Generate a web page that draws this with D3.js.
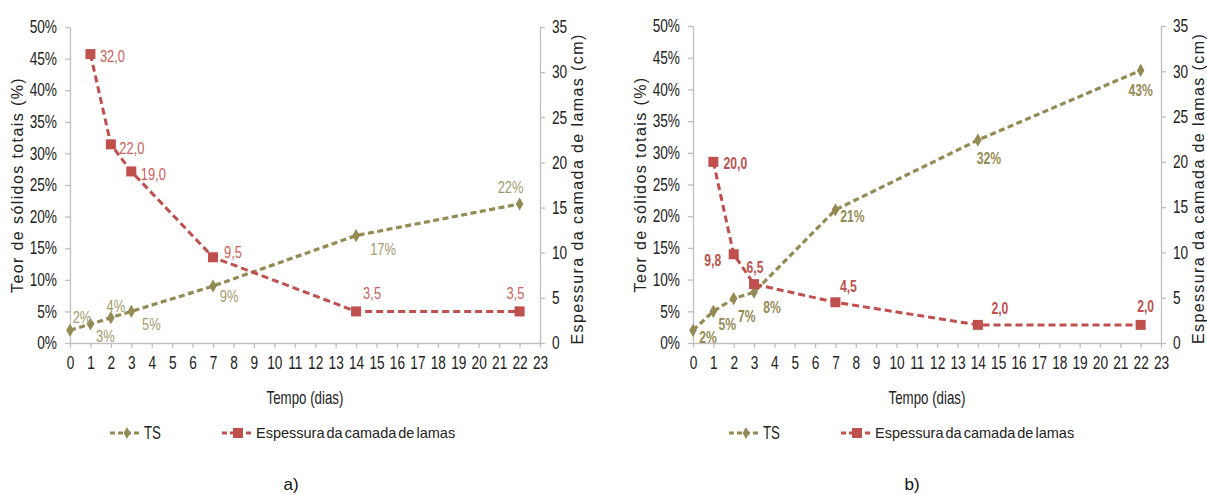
<!DOCTYPE html>
<html>
<head>
<meta charset="utf-8">
<script src="https://cdn.jsdelivr.net/npm/d3@7/dist/d3.min.js"></script>
<style>
  html, body { margin: 0; padding: 0; background: #fff; }
  svg { display: block; }
</style>
</head>
<body>
<svg id="chart" width="1207" height="495"></svg>
<script>
// Sampling days (x axis, days) and the two measured series per trial
const days = [0, 1, 2, 3, 7, 14, 22];
const espDays = [1, 2, 3, 7, 14, 22];

// Trial a)
const tsA = [0.02, 0.03, 0.04, 0.05, 0.09, 0.17, 0.22];
const espA = [32.0, 22.0, 19.0, 9.5, 3.5, 3.5];

// Trial b)
const tsB = [0.02, 0.05, 0.07, 0.08, 0.21, 0.32, 0.43];
const espB = [20.0, 9.8, 6.5, 4.5, 2.0, 2.0];

// Tick values
const dayTicks = d3.range(0, 24);
const pctTicks = [0, 0.05, 0.10, 0.15, 0.20, 0.25, 0.30, 0.35, 0.40, 0.45, 0.50];
const cmTicks = [0, 5, 10, 15, 20, 25, 30, 35];

// Text
const yLeftTitle = "Teor de sólidos totais (%)";
const yRightTitle = "Espessura da camada de lamas (cm)";
const xTitle = "Tempo (dias)";
const legendTS = "TS";
const legendEsp = "Espessura da camada de lamas";

const OLIVE = "#948A54";
const RED = "#C0504D";
const AXIS = "#BFBFBF";
const SANS = '"Liberation Sans", Arial, sans-serif';
const NARROW_K = 0.76; // horizontal squeeze giving a narrow face

// Data-label offsets (px) relative to each marker
const tsLabelOffA = [[12, -14], [15, 12], [5, -12], [20, 12], [16, 10], [27, 13], [-9, -17]];
const espLabelOffA = [[22, 2], [21, 3], [22, 2], [20, -5], [16, -19], [-4, -19]];
const tsLabelOffB = [[15, 7], [14, 13], [13, 18], [18, 15], [17, 7], [11, 18], [0, 20]];
const espLabelOffB = [[22, 2], [-21, 6], [1, -17], [13, -16], [22, -17], [5, -19]];

const svg = d3.select("#chart");

// Squeeze text horizontally around its own anchor point
function condense(sel) {
  sel.each(function () {
    const t = d3.select(this);
    const x = +t.attr("x") || 0, y = +t.attr("y") || 0;
    t.attr("x", 0).attr("y", 0).attr("transform", `translate(${x},${y}) scale(${NARROW_K},1)`);
  });
}

function panel(cfg) {
  const x = d3.scaleLinear().domain([0, 23]).range([cfg.x0, cfg.x1]);
  const yL = d3.scaleLinear().domain([0, 0.5]).range([cfg.yBottom, cfg.yTop]);
  const yR = d3.scaleLinear().domain([0, 35]).range([cfg.yBottom, cfg.yTop]);
  const g = svg.append("g");

  const styleAxis = sel => {
    sel.select(".domain").attr("stroke", AXIS).attr("stroke-width", 1.3);
    sel.selectAll(".tick line").attr("stroke", AXIS).attr("stroke-width", 1.3);
  };

  g.append("g").attr("transform", `translate(0,${cfg.yBottom})`)
    .call(d3.axisBottom(x).tickValues(dayTicks).tickSize(5).tickSizeOuter(0).tickPadding(8).tickFormat(d3.format("d")))
    .call(styleAxis);
  g.append("g").attr("transform", `translate(${cfg.x0},0)`)
    .call(d3.axisLeft(yL).tickValues(pctTicks).tickSize(5).tickSizeOuter(0).tickPadding(8).tickFormat(d3.format(".0%")))
    .call(styleAxis);
  g.append("g").attr("transform", `translate(${cfg.x1},0)`)
    .call(d3.axisRight(yR).tickValues(cmTicks).tickSize(5).tickSizeOuter(0).tickPadding(7).tickFormat(d3.format("d")))
    .call(styleAxis);
  g.selectAll(".tick text").attr("font-family", SANS).attr("font-size", 18).attr("fill", "#222").call(condense);

  // Axis titles
  const yMid = (cfg.yTop + cfg.yBottom) / 2;
  g.append("text").attr("transform", `translate(${cfg.x0 - 47},${yMid}) rotate(-90)`)
    .attr("text-anchor", "middle").attr("font-family", SANS).attr("font-size", 16)
    .attr("letter-spacing", 1.4).attr("fill", "#222").text(yLeftTitle);
  g.append("text").attr("transform", `translate(${cfg.x1 + 43},${yMid + 4}) rotate(-90)`)
    .attr("text-anchor", "middle").attr("font-family", SANS).attr("font-size", 16)
    .attr("letter-spacing", 1.4).attr("fill", "#222").text(yRightTitle);
  g.append("text").attr("x", (cfg.x0 + cfg.x1) / 2).attr("y", cfg.yBottom + 61)
    .attr("text-anchor", "middle").attr("font-family", SANS).attr("font-size", 17.5)
    .attr("fill", "#222").text(xTitle).call(condense);

  // TS series
  const tsPts = days.map((d, i) => [d, cfg.ts[i]]);
  g.append("path").datum(tsPts)
    .attr("d", d3.line().x(d => x(d[0])).y(d => yL(d[1])))
    .attr("fill", "none").attr("stroke", OLIVE).attr("stroke-width", 3.2).attr("stroke-dasharray", "6,3.5");
  g.selectAll(".ts-m").data(tsPts).join("path")
    .attr("transform", d => `translate(${x(d[0])},${yL(d[1])})`)
    .attr("d", d3.symbol(d3.symbolDiamond, 50)).attr("fill", OLIVE);

  // Sludge-layer thickness series
  const espPts = espDays.map((d, i) => [d, cfg.esp[i]]);
  g.append("path").datum(espPts)
    .attr("d", d3.line().x(d => x(d[0])).y(d => yR(d[1])))
    .attr("fill", "none").attr("stroke", RED).attr("stroke-width", 3).attr("stroke-dasharray", "7,4");
  g.selectAll(".esp-m").data(espPts).join("rect")
    .attr("x", d => x(d[0]) - 5).attr("y", d => yR(d[1]) - 5)
    .attr("width", 10).attr("height", 10).attr("fill", RED);

  // Value labels
  const fmtPct = d3.format(".0%");
  const fmtCm = v => d3.format(".1f")(v).replace(".", ",");
  g.selectAll(".ts-l").data(tsPts).join("text")
    .attr("x", (d, i) => x(d[0]) + cfg.tsOff[i][0])
    .attr("y", (d, i) => yL(d[1]) + cfg.tsOff[i][1])
    .attr("text-anchor", "middle").attr("dominant-baseline", "central")
    .attr("font-family", SANS).attr("font-size", cfg.labelSize).attr("font-weight", cfg.bold ? "bold" : "normal")
    .attr("fill", cfg.tsLabelColor).text(d => fmtPct(d[1])).call(condense);
  g.selectAll(".esp-l").data(espPts).join("text")
    .attr("x", (d, i) => x(d[0]) + cfg.espOff[i][0])
    .attr("y", (d, i) => yR(d[1]) + cfg.espOff[i][1])
    .attr("text-anchor", "middle").attr("dominant-baseline", "central")
    .attr("font-family", SANS).attr("font-size", cfg.labelSize).attr("font-weight", cfg.bold ? "bold" : "normal")
    .attr("fill", cfg.espLabelColor).text(d => fmtCm(d[1])).call(condense);

  // Legend
  const ly = 433;
  const lg = g.append("g").attr("transform", `translate(${cfg.legendX},${ly})`);
  lg.append("line").attr("x1", 0).attr("x2", 32).attr("stroke", OLIVE).attr("stroke-width", 3).attr("stroke-dasharray", "5,3");
  lg.append("path").attr("transform", "translate(17,0)").attr("d", d3.symbol(d3.symbolDiamond, 40)).attr("fill", OLIVE);
  lg.append("text").attr("x", 34).attr("y", 0).attr("dominant-baseline", "central")
    .attr("font-family", SANS).attr("font-size", 17.5).attr("fill", "#222").text(legendTS).call(condense);
  lg.append("line").attr("x1", 112).attr("x2", 144).attr("stroke", RED).attr("stroke-width", 3).attr("stroke-dasharray", "5,3");
  lg.append("rect").attr("x", 123).attr("y", -5).attr("width", 10).attr("height", 10).attr("fill", RED);
  lg.append("text").attr("x", 146).attr("y", 0).attr("dominant-baseline", "central")
    .attr("font-family", SANS).attr("font-size", 14.5).attr("word-spacing", -2).attr("fill", "#222").text(legendEsp);

  // Panel caption
  g.append("text").attr("x", cfg.captionX).attr("y", 490).attr("text-anchor", "middle")
    .attr("font-family", SANS).attr("font-size", 17).attr("fill", "#111").text(cfg.caption);
}

panel({ x0: 70, x1: 540, yTop: 27, yBottom: 343, ts: tsA, esp: espA,
  tsOff: tsLabelOffA, espOff: espLabelOffA, bold: false, labelSize: 17,
  tsLabelColor: "#A39C6E", espLabelColor: "#CC5F5B", legendX: 110, captionX: 291, caption: "a)" });
panel({ x0: 693, x1: 1161, yTop: 26, yBottom: 343, ts: tsB, esp: espB,
  tsOff: tsLabelOffB, espOff: espLabelOffB, bold: true, labelSize: 16,
  tsLabelColor: OLIVE, espLabelColor: RED, legendX: 729, captionX: 912, caption: "b)" });
</script>
</body>
</html>
